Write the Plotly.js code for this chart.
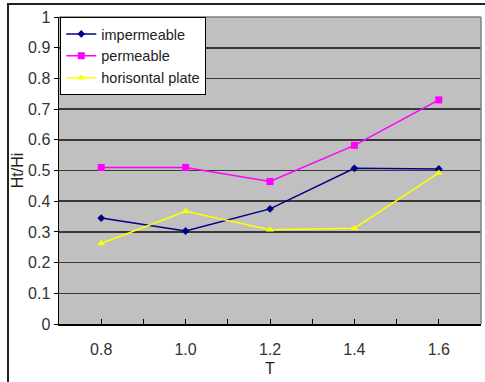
<!DOCTYPE html>
<html><head><meta charset="utf-8">
<script src="https://cdn.plot.ly/plotly-3.0.1.min.js"></script>
<style>
html,body{margin:0;padding:0;background:#fff;}
#chart{width:485px;height:382px;position:absolute;left:0;top:0;}
#frame{position:absolute;left:7px;top:3px;width:490px;height:400px;border-left:2px solid #222;border-top:2px solid #222;pointer-events:none;}
</style></head><body>
<div id="chart"></div><div id="frame"></div>
<script>
const T = [0.8, 1.0, 1.2, 1.4, 1.6];
const tickLabels = ["0.8", "1.0", "1.2", "1.4", "1.6"];
const impermeable = [0.345, 0.303, 0.375, 0.507, 0.505];
const permeable = [0.510, 0.510, 0.464, 0.582, 0.730];
const horisontal = [0.262, 0.367, 0.307, 0.312, 0.492];
const seriesNames = ["impermeable", "permeable", "horisontal plate"];

const boundaries = [0.7, 0.9, 1.1, 1.3, 1.5, 1.7];
const tv = T.concat(boundaries);
const tt = tickLabels.concat(boundaries.map(() => ""));

const traces = [
  {x: T, y: impermeable, name: seriesNames[0], mode: "lines+markers",
   line: {color: "#000080", width: 1.5}, marker: {symbol: "diamond", size: 6, color: "#000080"}},
  {x: T, y: permeable, name: seriesNames[1], mode: "lines+markers",
   line: {color: "#ff00ff", width: 1.5}, marker: {symbol: "square", size: 7, color: "#ff00ff"}},
  {x: T, y: horisontal, name: seriesNames[2], mode: "lines+markers",
   line: {color: "#ffff00", width: 1.5}, marker: {symbol: "triangle-up", size: 7, color: "#ffff00"}}
];

const layout = {
  width: 485, height: 382,
  margin: {l: 59, r: 4, t: 17, b: 58},
  paper_bgcolor: "#fff", plot_bgcolor: "#c0c0c0",
  font: {family: "Liberation Sans, Arial, sans-serif", size: 16, color: "#333"},
  showlegend: true,
  legend: {x: 0.003, y: 1, xanchor: "left", yanchor: "top", bgcolor: "#fff",
           bordercolor: "#000", borderwidth: 1, font: {size: 14.5, color: "#222"},
           tracegroupgap: 0, itemwidth: 30},
  xaxis: {range: [0.7, 1.7], tickvals: tv, ticktext: tt, ticks: "inside", ticklen: 5,
          tickcolor: "#000", showgrid: false, zeroline: false, showline: true,
          linecolor: "#000", linewidth: 1.5, mirror: false, ticklabelstandoff: 10,
          title: {text: "T", font: {size: 16, color: "#222"}, standoff: 6}},
  yaxis: {range: [0, 1], tickvals: [0,0.1,0.2,0.3,0.4,0.5,0.6,0.7,0.8,0.9,1],
          ticktext: ["0","0.1","0.2","0.3","0.4","0.5","0.6","0.7","0.8","0.9","1"],
          ticks: "outside", ticklen: 4, tickcolor: "#000",
          showgrid: true, gridcolor: "#383838", gridwidth: 1.6, zeroline: false,
          showline: true, linecolor: "#000", linewidth: 1.5,
          title: {text: "Ht/Hi", font: {size: 16, color: "#222"}, standoff: 0}},
  shapes: [
    {type: "line", xref: "paper", yref: "paper", x0: 1, x1: 1, y0: 0, y1: 1, line: {color: "#808080", width: 1.5}},
    {type: "line", xref: "paper", yref: "paper", x0: 0, x1: 1, y0: 1, y1: 1, line: {color: "#808080", width: 1.5}}
  ]
};
Plotly.newPlot("chart", traces, layout, {displayModeBar: false, staticPlot: true});
</script></body></html>
